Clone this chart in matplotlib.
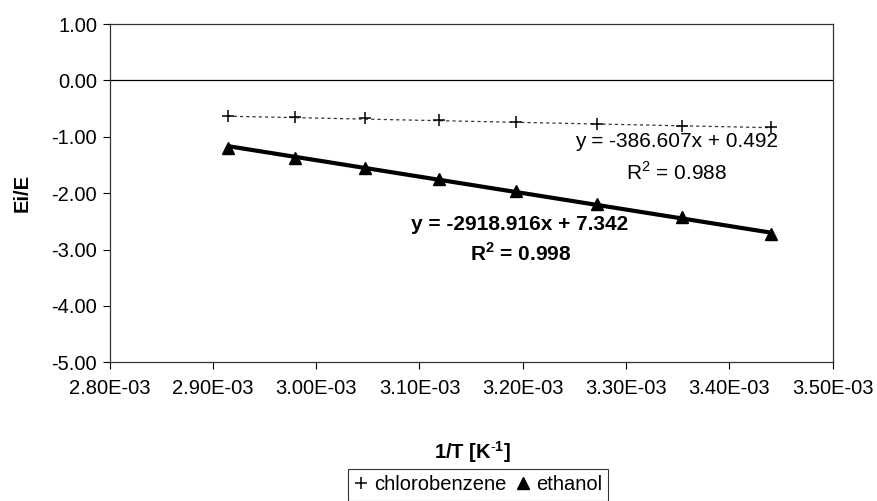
import matplotlib
matplotlib.use("Agg")
import matplotlib.pyplot as plt
import numpy as np
from matplotlib.ticker import FuncFormatter

plt.rcParams['font.family'] = ['Liberation Sans', 'DejaVu Sans']
plt.rcParams['mathtext.fontset'] = 'custom'
plt.rcParams['mathtext.rm'] = 'Liberation Sans'
plt.rcParams['mathtext.bf'] = 'Liberation Sans:bold'

# Data
inv_T = [2.9142e-3, 2.9793e-3, 3.0474e-3, 3.1187e-3, 3.1934e-3, 3.2717e-3, 3.3540e-3, 3.4405e-3]
chlorobenzene = [-0.63, -0.645, -0.675, -0.705, -0.735, -0.765, -0.80, -0.83]
ethanol = [-1.19, -1.37, -1.55, -1.75, -1.97, -2.20, -2.43, -2.73]

# Trendline coefficients (as printed on chart)
cb_slope, cb_icpt, cb_r2 = -386.607, 0.492, 0.988
et_slope, et_icpt, et_r2 = -2918.916, 7.342, 0.998

xticks = [2.8e-3, 2.9e-3, 3.0e-3, 3.1e-3, 3.2e-3, 3.3e-3, 3.4e-3, 3.5e-3]
yticks = [-5, -4, -3, -2, -1, 0, 1]

FS = 14.5

fig = plt.figure(figsize=(8.77, 5.01), dpi=100)
ax = fig.add_axes([0.1249, 0.2768, 0.8246, 0.6752])

x = np.array(inv_T)
xl = np.array([x.min(), x.max()])

# trendlines
ax.plot(xl, cb_slope * xl + cb_icpt, color='#333333', lw=0.9, ls=(0, (2.5, 2.5)), zorder=2)
ax.plot(xl, et_slope * xl + et_icpt, color='black', lw=3.0, zorder=2, solid_capstyle='butt')

# markers
ax.plot(x, chlorobenzene, ls='none', marker='+', ms=9, mew=1.1, color='black', label='chlorobenzene', zorder=3)
ax.plot(x, ethanol, ls='none', marker='^', ms=8, color='black', label='ethanol', zorder=3)

ax.axhline(0, color='black', lw=0.9, zorder=1)

ax.set_xlim(2.8e-3, 3.5e-3)
ax.set_ylim(-5, 1)
ax.set_xticks(xticks)
ax.set_yticks(yticks)
ax.xaxis.set_major_formatter(FuncFormatter(lambda v, p: ("%.2E" % v)))
ax.yaxis.set_major_formatter(FuncFormatter(lambda v, p: "%.2f" % v))
ax.tick_params(axis='both', direction='out', length=5, width=0.8, labelsize=FS, colors='black')
ax.tick_params(axis='x', pad=7)
ax.tick_params(axis='y', pad=4)
for s in ax.spines.values():
    s.set_color('#333333')
    s.set_linewidth(0.9)

def px(xp, yp):
    return (xp / 877, 1 - yp / 501)

fig.text(*px(22, 193), 'Ei/E', rotation=90, ha='center', va='center', fontsize=FS, fontweight='bold')
fig.text(*px(472, 452), r'1/T [K$^{\mathbf{\text{-}1}}$]', ha='center', va='center', fontsize=FS, fontweight='bold')

# equation annotations
fig.text(*px(677, 142), 'y = -386.607x + 0.492', ha='center', va='center', fontsize=FS + 0.5)
fig.text(*px(677, 172), 'R$^2$ = 0.988', ha='center', va='center', fontsize=FS + 0.5)
fig.text(*px(520, 225), 'y = -2918.916x + 7.342', ha='center', va='center', fontsize=FS + 0.5, fontweight='bold')
fig.text(*px(521, 254), r'R$^\mathbf{2}$ = 0.998', ha='center', va='center', fontsize=FS + 0.5, fontweight='bold')

leg = fig.legend(loc='center', bbox_to_anchor=px(478, 485), ncol=2, frameon=True,
                 fontsize=FS, handlelength=0.7, handletextpad=0.3, columnspacing=0.5,
                 borderpad=0.3, fancybox=False, edgecolor='black')
leg.get_frame().set_linewidth(0.8)

fig.savefig('out.png', dpi=100)
